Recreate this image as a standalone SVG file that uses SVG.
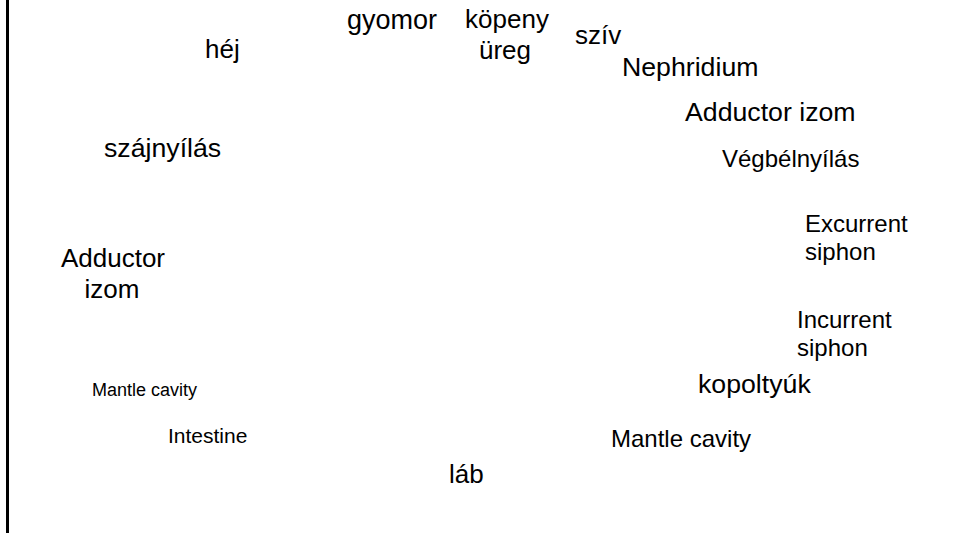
<svg xmlns="http://www.w3.org/2000/svg" width="962" height="533" viewBox="0 0 962 533">
<style>
text{font-family:"Liberation Sans",Arial,sans-serif;fill:#000}
.l{font-size:26.7px}
.m{font-size:26px}
.s{font-size:24px}
.xs{font-size:18px}
.i{font-size:21px}
</style>
<rect x="0" y="0" width="962" height="533" fill="#fff"/>
<rect id="frame-line" x="6" y="0" width="3" height="533" fill="#000"/>
<g id="connectors"></g>
<g id="hej"><text class="m" x="205" y="58">héj</text></g>
<g id="gyomor"><text class="m" x="347" y="29" style="font-size:27px">gyomor</text></g>
<g id="kopeny-ureg"><text class="m" x="507" y="28" text-anchor="middle">köpeny</text><text class="m" x="505" y="59" text-anchor="middle">üreg</text></g>
<g id="sziv"><text class="m" x="575" y="44">szív</text></g>
<g id="nephridium"><text class="l" x="622" y="76">Nephridium</text></g>
<g id="adductor-right"><text class="l" x="685" y="121">Adductor izom</text></g>
<g id="vegbelnyilas"><text class="s" x="722" y="167">Végbélnyílás</text></g>
<g id="szajnyilas"><text class="l" x="104" y="157">szájnyílás</text></g>
<g id="excurrent"><text class="s" x="805" y="232">Excurrent</text><text class="s" x="805" y="260">siphon</text></g>
<g id="incurrent"><text class="s" x="797" y="328">Incurrent</text><text class="s" x="797" y="356">siphon</text></g>
<g id="adductor-left"><text class="m" x="113" y="267" text-anchor="middle">Adductor</text><text class="m" x="112" y="298" text-anchor="middle">izom</text></g>
<g id="kopoltyuk"><text class="l" x="698" y="393">kopoltyúk</text></g>
<g id="mantle-left"><text class="xs" x="92" y="396">Mantle cavity</text></g>
<g id="intestine"><text class="i" x="168" y="443">Intestine</text></g>
<g id="mantle-right"><text class="s" x="611" y="447">Mantle cavity</text></g>
<g id="lab"><text class="m" x="449" y="483">láb</text></g>
</svg>
